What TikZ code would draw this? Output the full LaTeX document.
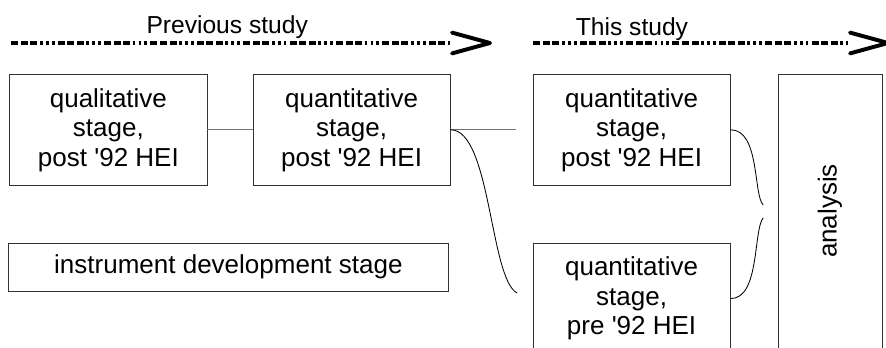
\documentclass[tikz,border=0pt]{standalone}
\usepackage{fontspec}
\setmainfont{Liberation Sans}
\usepackage{tikz}
\usetikzlibrary{arrows.meta, positioning, calc}

\begin{document}
\begin{tikzpicture}[
        stagebox/.style={rectangle, draw=black!80, line width=0.7pt, minimum width=4.93cm, minimum height=2.78cm, align=center, inner sep=0pt, font=\fontsize{18.5}{21}\selectfont},
        widebox/.style={stagebox, minimum width=10.98cm, minimum height=1.2cm},
        studyline/.style={line width=2.8pt, shorten >=1.0cm, dash pattern=on 5pt off 1.8pt on 5pt off 1.8pt on 5pt off 1.8pt on 2pt off 2.2pt on 2pt off 2.2pt on 2pt off 2.2pt},
        chevron/.style={line width=2.8pt, line cap=round, line join=round},
        studylabel/.style={anchor=base, font=\fontsize{17.5}{21}\selectfont},
        link/.style={black!55, line width=0.8pt},
        curvelink/.style={black, line width=0.6pt}
    ]
        \useasboundingbox (0,0) rectangle (22.15,8.675);
        \clip (0,0) rectangle (22.15,8.675);

        % timelines
        \coordinate (prevstart) at (0.28,7.6);
        \coordinate (prevend) at (12.25,7.6);
        \coordinate (thisstart) at (13.33,7.6);
        \coordinate (thisend) at (22.2,7.6);
        \draw[studyline] (prevstart) -- (prevend);
        \draw[studyline] (thisstart) -- (thisend);
        \draw[chevron] ($(prevend)+(-0.95,0.26)$) -- (prevend) -- ($(prevend)+(-0.95,-0.26)$);
        \draw[chevron] ($(thisend)+(-0.95,0.26)$) -- (thisend) -- ($(thisend)+(-0.95,-0.26)$);
        \node[studylabel] (prevlabel) at (5.68,7.83) {Previous study};
        \node[studylabel] (thislabel) at (15.8,7.8) {This study};

        % stages
        \node[stagebox] (qual) at (2.71,5.43) {qualitative\\stage,\\post \textquotesingle92 HEI};
        \node[stagebox] (quantprev) at (8.79,5.43) {quantitative\\stage,\\post \textquotesingle92 HEI};
        \node[stagebox] (quantpost) at (15.79,5.43) {quantitative\\stage,\\post \textquotesingle92 HEI};
        \node[stagebox] (quantpre) at (15.79,1.21) {quantitative\\stage,\\pre \textquotesingle92 HEI};
        \node[widebox] (instr) at (5.71,2.0) {instrument development stage};
        \node[stagebox, rotate=90, minimum width=6.85cm, minimum height=2.6cm] (analysis) at (20.75,3.4) {analysis};

        % links
        \coordinate (gapend) at (12.9,5.43);
        \coordinate (curveend) at (12.93,1.35);
        \coordinate (bracetop) at (19.08,3.55);
        \coordinate (bracebot) at (19.08,3.23);
        \draw[link] (qual.east) -- (quantprev.west);
        \draw[link] (quantprev.east) -- (gapend);
        \draw[curvelink] (quantprev.east) .. controls +(1.0,0) and +(-0.68,0.33) .. (curveend);
        \draw[curvelink] (quantpost.east) .. controls +(0.73,0) and +(-0.25,0.25) .. (bracetop);
        \draw[curvelink] (bracebot) .. controls +(-0.25,-0.3) and +(0.73,0) .. (quantpre.east);
    \end{tikzpicture}
\end{document}
